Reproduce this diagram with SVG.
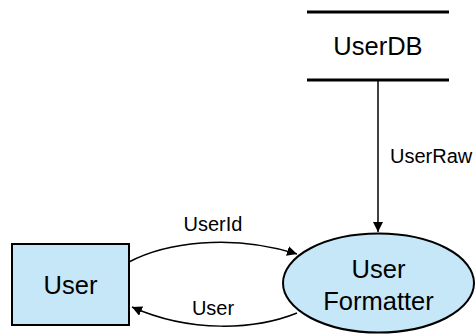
<svg xmlns="http://www.w3.org/2000/svg" width="476" height="335" viewBox="0 0 476 335">
  <defs>
    <marker id="arrow" viewBox="0 0 10 10" refX="10" refY="5" markerWidth="10" markerHeight="10" markerUnits="userSpaceOnUse" orient="auto">
      <path d="M0,0 L10,5 L0,10 Z" fill="#000"/>
    </marker>
  </defs>
  <style>
    text { font-family: "Liberation Sans", Arial, Helvetica, sans-serif; fill: #000; text-anchor: middle; }
    .node-label { font-size: 25.5px; }
    .edge-label { font-size: 20px; }
    .shape { fill: #c6e7f7; stroke: #000; stroke-width: 2; }
    .store { stroke: #000; stroke-width: 3; }
    .edge { fill: none; stroke: #000; stroke-width: 1.5; marker-end: url(#arrow); }
  </style>
  <rect width="476" height="335" fill="#fff"/>

  <!-- data store -->
  <g id="UserDB">
    <line class="store" x1="307" y1="12" x2="449" y2="12"/>
    <line class="store" x1="307" y1="80" x2="449" y2="80"/>
    <text class="node-label" x="378" y="55">UserDB</text>
  </g>

  <!-- external entity -->
  <g id="User">
    <rect class="shape" x="12" y="244" width="117" height="81"/>
    <text class="node-label" x="70.5" y="294">User</text>
  </g>

  <!-- process -->
  <g id="UserFormatter">
    <ellipse class="shape" cx="378.5" cy="283" rx="95.5" ry="49.5"/>
    <text class="node-label" x="378.5" y="278">User</text>
    <text class="node-label" x="378.5" y="310">Formatter</text>
  </g>

  <!-- flows -->
  <g id="connectors">
    <line class="edge" x1="378" y1="81" x2="378" y2="232"/>
    <text class="edge-label" x="390" y="163" style="text-anchor:start">UserRaw</text>
    <path class="edge" d="M129,262 C165,243 230,233 297,254"/>
    <text class="edge-label" x="213" y="231">UserId</text>
    <path class="edge" d="M297,313 C255,330 190,333 132,307"/>
    <text class="edge-label" x="213" y="315">User</text>
  </g>
</svg>
